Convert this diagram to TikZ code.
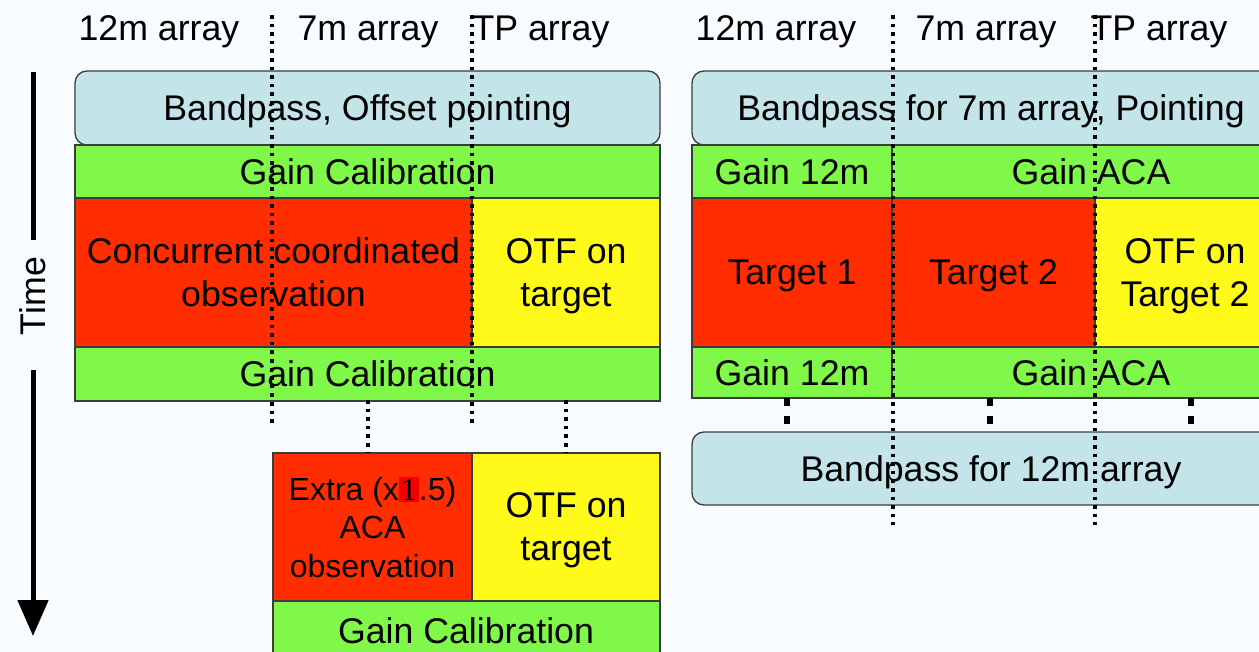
\documentclass[tikz,border=0pt]{standalone}
\usepackage{fontspec}
\setmainfont{Liberation Sans}
\newfontfamily\oneserif{Liberation Serif}
\usetikzlibrary{arrows.meta}
\definecolor{bgc}{RGB}{248,252,254}
\definecolor{bpblue}{RGB}{195,228,232}
\definecolor{gcgreen}{RGB}{128,248,74}
\definecolor{obsred}{RGB}{255,45,0}
\definecolor{otfyellow}{RGB}{255,250,26}
\definecolor{hlred}{RGB}{245,0,0}
\definecolor{edge}{RGB}{60,60,60}
\tikzset{
  cell/.style={draw=edge, line width=1.3pt, inner sep=0pt, outer sep=0pt, anchor=north west, align=center, text depth=0pt, font=\fontsize{35.7}{43}\selectfont},
  bpbox/.style={cell, fill=bpblue, rounded corners=12pt},
  gcbox/.style={cell, fill=gcgreen},
  redbox/.style={cell, fill=obsred},
  yelbox/.style={cell, fill=otfyellow},
  hdr/.style={inner sep=0pt, text depth=0pt, font=\fontsize{35.7}{43}\selectfont},
  divline/.style={line width=3.6pt, dash pattern=on 3.6pt off 5pt},
  thickdash/.style={line width=6pt, dash pattern=on 8pt off 10pt},
}
\begin{document}
\begin{tikzpicture}[x=1pt,y=-1pt]
\useasboundingbox (0,0) rectangle (1259,652);
\clip (0,0) rectangle (1259,652);
\fill[bgc] (0,0) rectangle (1259,652);
% ---------- left panel ----------
\node[bpbox, minimum width=585, minimum height=74] (bp1) at (75,71) {Bandpass, Offset pointing};
\node[gcbox, minimum width=585, minimum height=53] (gc1) at (75,145) {Gain Calibration};
\node[redbox, minimum width=397, minimum height=149] (obs1) at (75,198) {Concurrent coordinated\\observation};
\node[yelbox, minimum width=188, minimum height=149] (otf1) at (472,198) {OTF on\\target};
\node[gcbox, minimum width=585, minimum height=54] (gc2) at (75,347) {Gain Calibration};
\node[redbox, minimum width=199, minimum height=148, font=\fontsize{32}{38.5}\selectfont] (ex) at (273,453)
  {Extra (x{\setlength\fboxsep{2pt}\colorbox{hlred}{\oneserif 1}}.5)\\ACA\\observation};
\node[yelbox, minimum width=188, minimum height=148] (otf2) at (472,453) {OTF on\\target};
\node[gcbox, minimum width=387, minimum height=62] (gc3) at (273,601) {};
\node[hdr] (gc3t) at (466,631) {Gain Calibration};
% ---------- right panel ----------
\node[bpbox, minimum width=598, minimum height=74] (bp2) at (692,71) {Bandpass for 7m array, Pointing};
\node[gcbox, minimum width=200, minimum height=53] (g12a) at (692,145) {Gain 12m};
\node[gcbox, minimum width=398, minimum height=53] (gacaA) at (892,145) {Gain ACA};
\node[redbox, minimum width=200, minimum height=149] (t1) at (692,198) {Target 1};
\node[redbox, minimum width=203, minimum height=149] (t2) at (892,198) {Target 2};
\node[yelbox, minimum width=180, minimum height=149] (otf3) at (1095,198) {OTF on\\Target 2};
\node[gcbox, minimum width=200, minimum height=51] (g12b) at (692,347) {Gain 12m};
\node[gcbox, minimum width=398, minimum height=51] (gacaB) at (892,347) {Gain ACA};
\node[bpbox, minimum width=598, minimum height=73] (bp3) at (692,432) {Bandpass for 12m array};
% ---------- headers ----------
\node[hdr] (h1) at (159,28) {12m array};
\node[hdr] (h2) at (368,28) {7m array};
\node[hdr] (h3) at (541,28) {TP array};
\node[hdr] (h4) at (776,28) {12m array};
\node[hdr] (h5) at (986,28) {7m array};
\node[hdr] (h6) at (1159,28) {TP array};
% ---------- divider lines ----------
\coordinate (dA1) at (272,15); \coordinate (dA2) at (272,425);
\coordinate (dB1) at (472,15); \coordinate (dB2) at (472,425);
\coordinate (dC1) at (893,15); \coordinate (dC2) at (893,525);
\coordinate (dD1) at (1095,15); \coordinate (dD2) at (1095,525);
\draw[divline] (dA1) -- (dA2);
\draw[divline] (dB1) -- (dB2);
\draw[divline] (dC1) -- (dC2);
\draw[divline] (dD1) -- (dD2);
\coordinate (sA) at (368,400); \coordinate (sB) at (566,400);
\draw[divline] (sA) -- (sA |- ex.north);
\draw[divline] (sB) -- (sB |- otf2.north);
\coordinate (tA) at (787,398); \coordinate (tB) at (990,398); \coordinate (tC) at (1191,398);
\draw[thickdash] (tA) -- (tA |- bp3.north);
\draw[thickdash] (tB) -- (tB |- bp3.north);
\draw[thickdash] (tC) -- (tC |- bp3.north);
% ---------- time arrow ----------
\node[hdr, rotate=90] (time) at (33,296) {Time};
\coordinate (ar1) at (33,72);
\coordinate (ar4) at (33,636);
\draw[line width=5pt] (ar1) -- (33,240);
\draw[line width=5pt, -{Triangle[width=30pt,length=36pt]}] (33,370) -- (ar4);
\end{tikzpicture}
\end{document}
